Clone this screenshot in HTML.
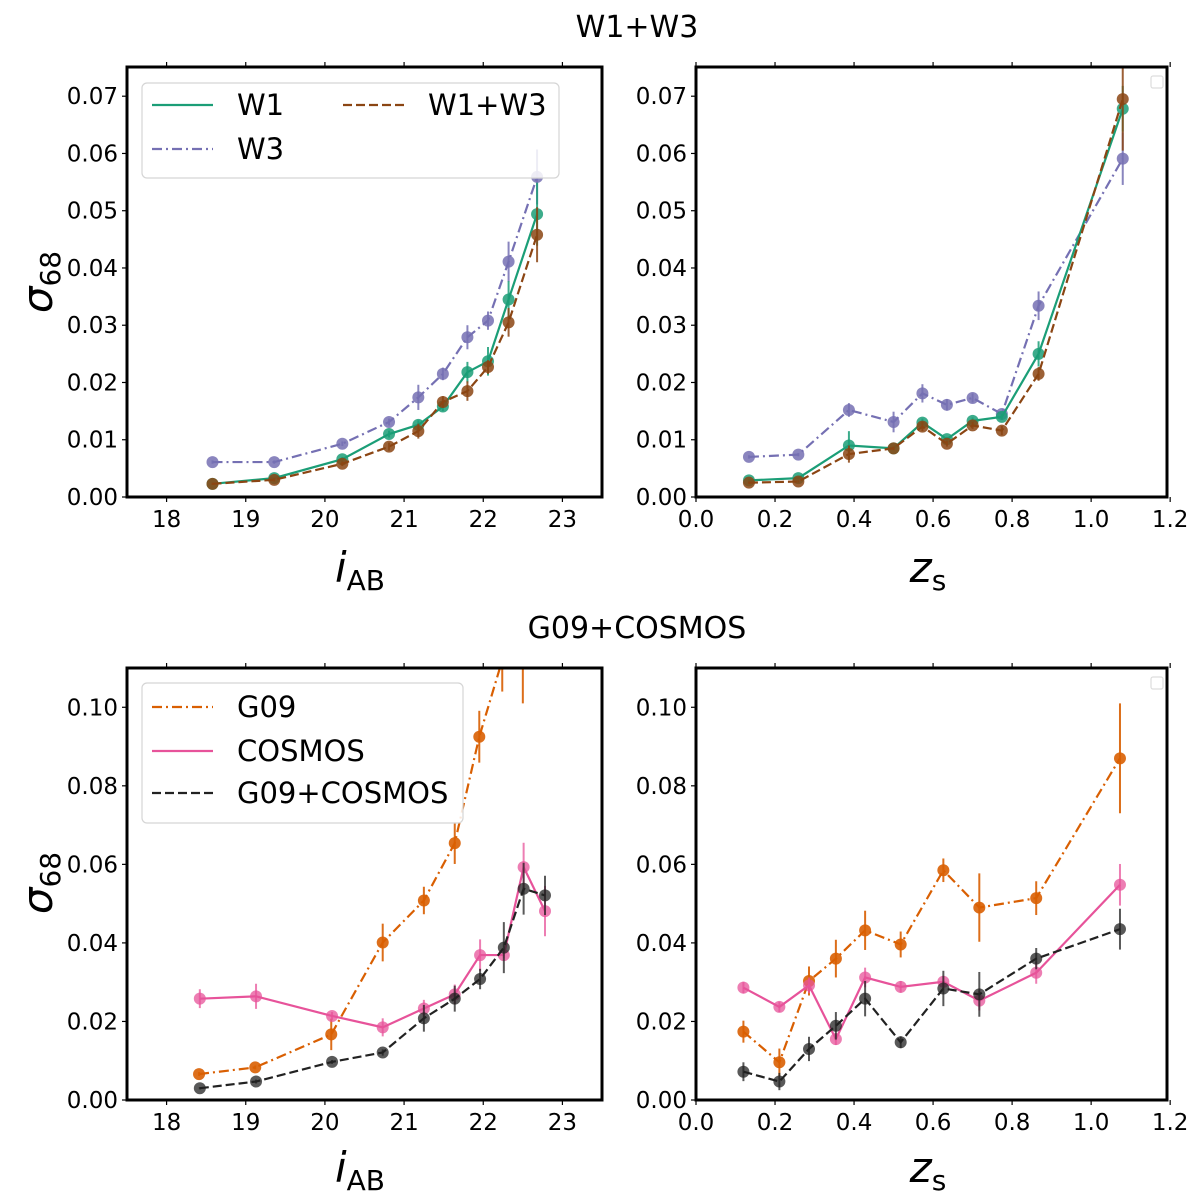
<!DOCTYPE html>
<html><head><meta charset="utf-8">
<style>
html,body{margin:0;padding:0;background:#fff;}
svg{display:block;font-family:"DejaVu Sans","Liberation Sans",sans-serif;}
</style></head>
<body>
<svg id="fig" width="1200" height="1199" viewBox="0 0 1200 1199"></svg>
<script>
// ---- Top-left (i_AB) data ----
const tlX = [18.58,19.36,20.22,20.81,21.18,21.49,21.80,22.06,22.32,22.68];
const tlW1 = [0.0023,0.0033,0.0066,0.0110,0.0126,0.0158,0.0218,0.0237,0.0345,0.0494];
const tlW1e = [0.0002,0.0002,0.0004,0.0006,0.0008,0.0008,0.0018,0.0025,0.0032,0.0055];
const tlW3 = [0.0061,0.0061,0.0093,0.0131,0.0174,0.0215,0.0279,0.0308,0.0411,0.0559];
const tlW3e = [0.0003,0.0003,0.0004,0.0006,0.0022,0.0011,0.0021,0.0016,0.0035,0.0048];
const tlW13 = [0.0023,0.0030,0.0058,0.0088,0.0115,0.0166,0.0185,0.0227,0.0305,0.0458];
const tlW13e = [0.0002,0.0003,0.0004,0.0007,0.0013,0.0010,0.0017,0.0012,0.0025,0.0048];
// ---- Top-right (z_s) data ----
const trX = [0.134,0.259,0.387,0.500,0.573,0.635,0.700,0.774,0.867,1.080];
const trW1 = [0.0029,0.0033,0.0090,0.0085,0.0130,0.0101,0.0133,0.0140,0.0250,0.0678];
const trW1e = [0.0002,0.0002,0.0025,0.0003,0.0007,0.0004,0.0006,0.0005,0.0022,0.0040];
const trW3 = [0.0070,0.0074,0.0152,0.0131,0.0181,0.0161,0.0173,0.0145,0.0334,0.0591];
const trW3e = [0.0003,0.0003,0.0012,0.0018,0.0016,0.0010,0.0008,0.0005,0.0025,0.0046];
const trW13 = [0.0025,0.0027,0.0075,0.0085,0.0123,0.0093,0.0125,0.0116,0.0215,0.0695];
const trW13e = [0.0002,0.0002,0.0015,0.0003,0.0008,0.0005,0.0006,0.0008,0.0012,0.0090];
// ---- Bottom-left (i_AB) data ----
const blXg = [18.41,19.12,20.08,20.73,21.25,21.64,21.95,22.24,22.50];
const blG09 = [0.0066,0.0083,0.0167,0.0401,0.0508,0.0654,0.0925,0.1120,0.1250];
const blG09e = [0.0005,0.0005,0.0040,0.0048,0.0035,0.0053,0.0066,0.0080,0.0240];
const blX = [18.42,19.13,20.09,20.73,21.25,21.64,21.96,22.26,22.51,22.78];
const blCos = [0.0258,0.0264,0.0214,0.0185,0.0233,0.0269,0.0369,0.0369,0.0593,0.0481];
const blCose = [0.0024,0.0032,0.0010,0.0023,0.0022,0.0025,0.0040,0.0008,0.0062,0.0064];
const blComb = [0.0030,0.0047,0.0097,0.0121,0.0208,0.0258,0.0308,0.0388,0.0538,0.0521];
const blCombe = [0.0003,0.0005,0.0005,0.0008,0.0034,0.0033,0.0026,0.0065,0.0066,0.0050];
// ---- Bottom-right (z_s) data ----
const brX = [0.120,0.211,0.286,0.354,0.428,0.518,0.626,0.717,0.861,1.073];
const brG09 = [0.0174,0.0096,0.0303,0.0360,0.0432,0.0396,0.0585,0.0490,0.0514,0.0870];
const brG09e = [0.0028,0.0035,0.0037,0.0048,0.0050,0.0033,0.0030,0.0087,0.0043,0.0140];
const brCos = [0.0286,0.0237,0.0292,0.0155,0.0312,0.0288,0.0301,0.0253,0.0324,0.0548];
const brCose = [0.0015,0.0013,0.0020,0.0015,0.0025,0.0015,0.0015,0.0025,0.0028,0.0053];
const brComb = [0.0072,0.0047,0.0130,0.0189,0.0258,0.0147,0.0284,0.0269,0.0360,0.0435];
const brCombe = [0.0024,0.0022,0.0031,0.0035,0.0045,0.0015,0.0045,0.0057,0.0027,0.0052];
// ---- ticks ----
const iTicks = ["18","19","20","21","22","23"];
const zTicks = ["0.0","0.2","0.4","0.6","0.8","1.0","1.2"];
const yTopTicks = ["0.00","0.01","0.02","0.03","0.04","0.05","0.06","0.07"];
const yBotTicks = ["0.00","0.02","0.04","0.06","0.08","0.10"];

const NS="http://www.w3.org/2000/svg";
const svg=document.getElementById('fig');
function mk(tag,attrs,parent){const e=document.createElementNS(NS,tag);for(const k in attrs)e.setAttribute(k,attrs[k]);(parent||svg).appendChild(e);return e;}

const C={W1:"#1b9e77",W3:"#7570b3",W13:"#8b4513",G09:"#d95f02",COS:"#e7539a",COMB:"#222"};
const DASH={solid:"",dash:"9,4",dashdot:"10,4,2,4"};

function panel(name,box,xlim,ylim,xTicks,yTicks){
  const g=mk('g',{});
  
  
  const sx=v=>box.x0+(v-xlim[0])/(xlim[1]-xlim[0])*(box.x1-box.x0);
  const sy=v=>box.y1-(v-ylim[0])/(ylim[1]-ylim[0])*(box.y1-box.y0);
  const cid='clip-'+name;
  const cp=mk('clipPath',{id:cid},g);
  mk('rect',{x:box.x0,y:box.y0,width:box.x1-box.x0,height:box.y1-box.y0},cp);
  xTicks.forEach(t=>{const v=parseFloat(t);const x=sx(v);if(x<box.x0-1||x>box.x1+4)return;
    mk('line',{x1:x,x2:x,y1:box.y1,y2:box.y1+5,stroke:'#000','stroke-width':1.2},g);
    mk('line',{x1:x,x2:x,y1:box.y0,y2:box.y0-5,stroke:'#000','stroke-width':1.2},g);
    const tx=mk('text',{x:x,y:box.y1+30,'font-size':23,'text-anchor':'middle',fill:'#000'},g);tx.textContent=t;
    
    
  });
  yTicks.forEach(t=>{const v=parseFloat(t);const y=sy(v);
    mk('line',{x1:box.x0,x2:box.x0-5,y1:y,y2:y,stroke:'#000','stroke-width':1.2},g);
    const tx=mk('text',{x:box.x0-9,y:y+8,'font-size':23,'text-anchor':'end',fill:'#000'},g);tx.textContent=t;
    
    
  });
  return {g,sx,sy,cid,box};
}
function series(p,name,xs,ys,es,color,dash,alpha){
  const sg=mk('g',{'clip-path':'url(#'+p.cid+')'},p.g);
  
  
  const pts=xs.map((x,i)=>p.sx(x)+','+p.sy(ys[i])).join(' ');
  mk('polyline',{points:pts,fill:'none',stroke:color,'stroke-width':2.2,'stroke-dasharray':dash},sg);
  xs.forEach((x,i)=>{
    mk('line',{x1:p.sx(x),x2:p.sx(x),y1:p.sy(ys[i]-es[i]),y2:p.sy(ys[i]+es[i]),stroke:color,'stroke-width':2,opacity:alpha},sg);
    const c=mk('circle',{cx:p.sx(x),cy:p.sy(ys[i]),r:6,fill:color,opacity:alpha},sg);
    
    
  });
}
function frame(p){mk('rect',{x:p.box.x0,y:p.box.y0,width:p.box.x1-p.box.x0,height:p.box.y1-p.box.y0,fill:'none',stroke:'#000','stroke-width':3},p.g);}
function emptyLegend(p){const r=mk('rect',{x:p.box.x1-16,y:p.box.y0+9,width:12,height:12,rx:2,fill:'#fff',stroke:'#ddd','stroke-width':1.2},p.g);
  
  }
function legend(p,x0,y0,w,h,entries){
  const lg=mk('g',{},p.g);
  
  
  mk('rect',{x:x0,y:y0,width:w,height:h,rx:5,fill:'#fff','fill-opacity':0.85,stroke:'#d5d5d5','stroke-width':1.2},lg);
  entries.forEach(e=>{
    const eg=mk('g',{},lg);
    
    
    mk('line',{x1:e.lx,x2:e.lx+61,y1:e.y,y2:e.y,stroke:e.c,'stroke-width':2.2,'stroke-dasharray':e.d},eg);
    const t=mk('text',{x:e.lx+85,y:e.y+10,'font-size':29,fill:'#000'},eg);t.textContent=e.t;
  });
}
function label(txt,sub,x,y,rot,name){
  const t=mk('text',{x:x,y:y,'font-size':42,'text-anchor':'middle',fill:'#000',transform:rot?`rotate(-90 ${x} ${y})`:''});
  
  
  const a=mk('tspan',{'font-style':'italic'},t);a.textContent=txt;
  const b=mk('tspan',{'font-size':28,dy:8},t);b.textContent=sub;
}
function title(txt,x,y,name){const t=mk('text',{x:x,y:y,'font-size':30,'text-anchor':'middle',fill:'#000'});t.textContent=txt;
  
  }

const TL=panel('panel-w-iab',{x0:127,x1:602,y0:67,y1:497},[17.5,23.5],[0,0.0751],iTicks,yTopTicks);
series(TL,'series-w3',tlX,tlW3,tlW3e,C.W3,DASH.dashdot,0.85);
series(TL,'series-w1',tlX,tlW1,tlW1e,C.W1,DASH.solid,0.85);
series(TL,'series-w1w3',tlX,tlW13,tlW13e,C.W13,DASH.dash,0.85);
frame(TL);
legend(TL,142,83,417,95,[{lx:152,y:105,c:C.W1,d:'',t:'W1'},{lx:152,y:149,c:C.W3,d:DASH.dashdot,t:'W3'},{lx:343,y:105,c:C.W13,d:DASH.dash,t:'W1+W3'}]);

const TR=panel('panel-w-zs',{x0:696,x1:1167,y0:67,y1:497},[0,1.192],[0,0.0751],zTicks,yTopTicks);
series(TR,'series-w3',trX,trW3,trW3e,C.W3,DASH.dashdot,0.85);
series(TR,'series-w1',trX,trW1,trW1e,C.W1,DASH.solid,0.85);
series(TR,'series-w1w3',trX,trW13,trW13e,C.W13,DASH.dash,0.85);
frame(TR);emptyLegend(TR);

const BL=panel('panel-g09-iab',{x0:127,x1:602,y0:668,y1:1100},[17.5,23.5],[0,0.11],iTicks,yBotTicks);
series(BL,'series-g09',blXg,blG09,blG09e,C.G09,DASH.dashdot,0.9);
series(BL,'series-cosmos',blX,blCos,blCose,C.COS,DASH.solid,0.75);
series(BL,'series-g09-cosmos',blX,blComb,blCombe,C.COMB,DASH.dash,0.75);
frame(BL);
legend(BL,142,683,321,140,[{lx:152,y:707,c:C.G09,d:DASH.dashdot,t:'G09'},{lx:152,y:751,c:C.COS,d:'',t:'COSMOS'},{lx:152,y:793,c:C.COMB,d:DASH.dash,t:'G09+COSMOS'}]);

const BR=panel('panel-g09-zs',{x0:696,x1:1167,y0:668,y1:1100},[0,1.192],[0,0.11],zTicks,yBotTicks);
series(BR,'series-g09',brX,brG09,brG09e,C.G09,DASH.dashdot,0.9);
series(BR,'series-cosmos',brX,brCos,brCose,C.COS,DASH.solid,0.75);
series(BR,'series-g09-cosmos',brX,brComb,brCombe,C.COMB,DASH.dash,0.75);
frame(BR);emptyLegend(BR);

title('W1+W3',637,37,'top-title');
title('G09+COSMOS',637,638,'bottom-title');
label('σ','68',52,282,true,'y-axis-title-top');
label('σ','68',52,883,true,'y-axis-title-bottom');
label('i','AB',360,582,false,'x-axis-title-iab-top');
label('z','s',928,582,false,'x-axis-title-zs-top');
label('i','AB',360,1182,false,'x-axis-title-iab-bottom');
label('z','s',928,1182,false,'x-axis-title-zs-bottom');
</script>
</body></html>
